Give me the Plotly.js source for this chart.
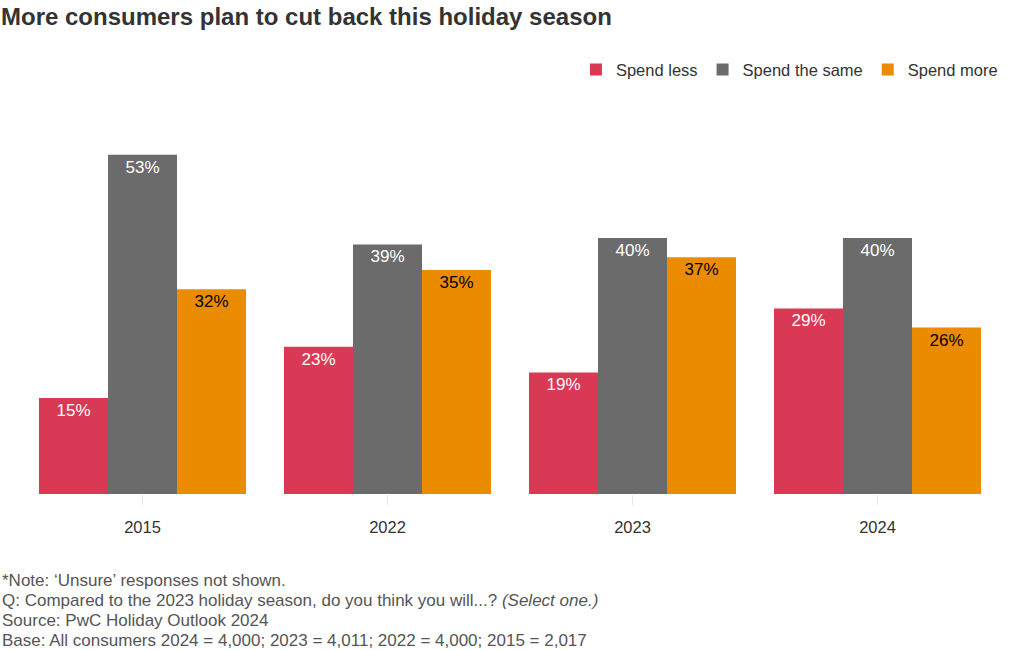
<!DOCTYPE html>
<html>
<head>
<meta charset="utf-8">
<script src="https://cdn.plot.ly/plotly-3.0.1.min.js"></script>
<style>html,body{margin:0;padding:0;background:#fff;}#chart{width:1020px;height:650px;}</style>
</head>
<body>
<div id="chart"></div>
<script>
const years = ['2015', '2022', '2023', '2024'];
const spendLess = [15, 23, 19, 29];
const spendSame = [53, 39, 40, 40];
const spendMore = [32, 35, 37, 26];
const seriesNames = ['Spend less', 'Spend the same', 'Spend more'];
const seriesColors = ['#d93954', '#6b6b6b', '#eb8c00'];
const labelColors = ['#ffffff', '#ffffff', '#000000'];
const seriesValues = [spendLess, spendSame, spendMore];

const font = 'Liberation Sans, Arial, Helvetica, sans-serif';

const traces = seriesValues.map((vals, i) => ({
  type: 'bar',
  name: seriesNames[i],
  x: years,
  y: vals,
  text: vals.map(v => v + '%'),
  textposition: 'inside',
  insidetextanchor: 'end',
  textangle: 0,
  textfont: {family: font, size: 17, color: labelColors[i]},
  marker: {color: seriesColors[i], line: {width: 0}},
  hoverinfo: 'skip'
}));

const layout = {
  width: 1020,
  height: 650,
  margin: {l: 20, r: 20, t: 110, b: 156},
  paper_bgcolor: '#ffffff',
  plot_bgcolor: '#ffffff',
  barmode: 'group',
  bargap: 0.155,
  bargroupgap: 0,
  showlegend: true,
  title: {
    text: '<b>More consumers plan to cut back this holiday season</b>',
    font: {family: font, size: 24, color: '#333333'},
    x: 0, xref: 'container', xanchor: 'left',
    y: 0.975, yref: 'container', yanchor: 'middle',
    pad: {l: 1}
  },
  legend: {
    orientation: 'h',
    x: 1.003, xanchor: 'right',
    y: 1.105, yanchor: 'middle',
    font: {family: font, size: 16.5, color: '#333333'},
    traceorder: 'normal',
    itemclick: false
  },
  xaxis: {
    type: 'category',
    showgrid: false,
    zeroline: false,
    showline: false,
    ticks: 'outside',
    ticklen: 10,
    tickcolor: '#e6e6e6',
    tickwidth: 1,
    ticklabelstandoff: 8,
    tickfont: {family: font, size: 16.5, color: '#333333'}
  },
  yaxis: {
    range: [0, 60],
    showgrid: false,
    zeroline: false,
    showline: false,
    showticklabels: false,
    ticks: ''
  },
  annotations: [
    {text: '*Note: ‘Unsure’ responses not shown.', y: 580},
    {text: 'Q: Compared to the 2023 holiday season, do you think you will...? <i>(Select one.)</i>', y: 600},
    {text: 'Source: PwC Holiday Outlook 2024', y: 620},
    {text: 'Base: All consumers 2024 = 4,000; 2023 = 4,011; 2022 = 4,000; 2015 = 2,017', y: 640}
  ].map(a => ({
    text: a.text,
    xref: 'paper', yref: 'paper',
    x: -0.02, xanchor: 'left',
    y: (494 - a.y) / 384, yanchor: 'middle',
    showarrow: false,
    align: 'left',
    font: {family: font, size: 17, color: '#555555'}
  }))
};

Plotly.newPlot('chart', traces, layout, {displayModeBar: false, staticPlot: true});
</script>
</body>
</html>
